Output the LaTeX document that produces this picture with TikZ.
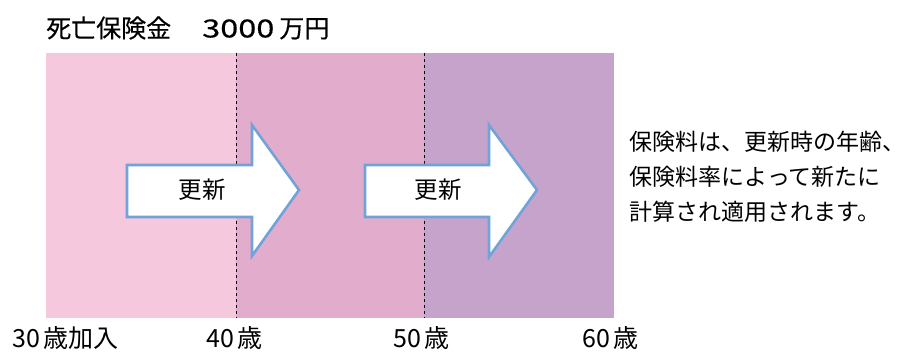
\documentclass[tikz,border=0pt]{standalone}
\usepackage{graphicx}
\usepackage{fontspec}
\setmainfont{Noto Sans CJK JP}
\newfontfamily\jp{Noto Sans CJK JP}
\newfontfamily\jpbold[FakeBold=0.35]{Noto Sans CJK JP}
\definecolor{segA}{HTML}{F5C8DE}
\definecolor{segB}{HTML}{E2ADCD}
\definecolor{segC}{HTML}{C6A3CB}
\definecolor{arrline}{HTML}{71A3D8}
\begin{document}
\begin{tikzpicture}[x=1pt,y=-1pt,
  divider/.style={draw=black,line width=0.9pt,dash pattern=on 3pt off 3pt},
  bigarrow/.style={fill=white,draw=arrline,line width=2.6pt,line join=miter},
  arrtext/.style={font=\jp\fontsize{23.5}{23.5}\selectfont,inner sep=0pt},
  agelabel/.style={font=\jp\fontsize{25}{25}\selectfont,inner sep=0pt,anchor=west},
  lbl/.style={inner sep=0pt}]
\useasboundingbox (0,0) rectangle (906,352);
% bands
\fill[segA] (46,53) rectangle (236,318);
\fill[segB] (236,53) rectangle (424,318);
\fill[segC] (424,53) rectangle (614,318);
\coordinate (d1t) at (236,53); \coordinate (d1b) at (236,318);
\coordinate (d2t) at (424,53); \coordinate (d2b) at (424,318);
\draw[divider] (d1t) -- (d1b);
\draw[divider] (d2t) -- (d2b);
% title
\node[lbl,anchor=west,font=\jpbold\fontsize{25}{25}\selectfont] (title) at (46,28)
  {死亡保険金\hspace{31pt}\scalebox{1.3}[1]{3000}\hspace{5pt}万円};
% arrows
\draw[bigarrow] (127,165) -- (252,165) -- (252,125) -- (299,190) -- (252,256) -- (252,217) -- (127,217) -- cycle;
\node[arrtext] (r1) at (202,190) {更新};
\draw[bigarrow] (365,165) -- (489,165) -- (489,125) -- (537,190) -- (489,257) -- (489,217) -- (365,217) -- cycle;
\node[arrtext] (r2) at (438,190) {更新};
% right note
\node[lbl,anchor=west,align=left,font=\jp\fontsize{23}{35}\selectfont] (note) at (629.5,177)
  {保険料は、更新時の年齢、\\保険料率によって新たに\\計算され適用されます。};
% ages
\node[agelabel] (a30) at (12,338) {30\hspace{4pt}歳加入};
\node[agelabel] (a40) at (206,338) {40\hspace{4pt}歳};
\node[agelabel] (a50) at (393,338) {50\hspace{4pt}歳};
\node[agelabel] (a60) at (582,338) {60\hspace{4pt}歳};
\end{tikzpicture}
\end{document}
